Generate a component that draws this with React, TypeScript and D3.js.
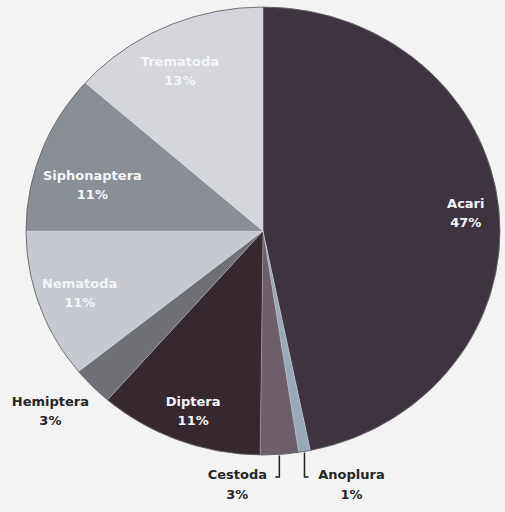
import { useEffect, useRef } from "react";
import { select, pie, arc } from "d3";

// slice data, clockwise from 12 o'clock
const categories = ["Acari", "Anoplura", "Cestoda", "Diptera", "Hemiptera", "Nematoda", "Siphonaptera", "Trematoda"];
const values = [46.8, 0.8, 2.6, 11.2, 2.8, 10.8, 11.5, 13.5];
const percentLabels = ["47%", "1%", "3%", "11%", "3%", "11%", "11%", "13%"];

const colors = ["#3d3440", "#9aa9b8", "#6d5f69", "#35282f", "#6f7075", "#c6c9d0", "#8a8e95", "#d4d6db"];

const width = 505;
const height = 512;
const cx = 263;
const cy = 231;
const rx = 237;
const ry = 224;

// label placement: [radius fraction, angle offset in degrees from slice middle]
const labelPlace: Record<string, [number, number]> = {
  Acari: [0.86, 0],
  Diptera: [0.85, -0.6],
  Hemiptera: [1.2, 2.3],
  Nematoda: [0.82, 0],
  Siphonaptera: [0.75, -4.4],
  Trematoda: [0.8, -1.7],
};
const outsideLabels = ["Hemiptera", "Cestoda", "Anoplura"];

export default function App() {
  const ref = useRef<SVGSVGElement>(null);

  useEffect(() => {
    if (!ref.current) return;
    const svg = select(ref.current);
    svg.selectAll("*").remove();

    svg.append("rect").attr("width", width).attr("height", height).attr("fill", "#f3f3f4");

    const slices = pie<number>().sort(null).value((d) => d)(values);
    const r = 100;
    const pieArc = arc<any>().innerRadius(0).outerRadius(r);

    // pie is slightly elliptical in the scan, so scale the circle
    const g = svg
      .append("g")
      .attr("transform", `translate(${cx},${cy}) scale(${rx / r},${ry / r})`);

    g.selectAll("path")
      .data(slices)
      .enter()
      .append("path")
      .attr("d", pieArc)
      .attr("fill", (_d, i) => colors[i])
      .attr("stroke", "#e6e8ec")
      .attr("stroke-width", 0.25)
      .attr("vector-effect", "non-scaling-stroke");

    g.append("ellipse")
      .attr("rx", r)
      .attr("ry", r)
      .attr("fill", "none")
      .attr("stroke", "#555")
      .attr("stroke-width", 0.8)
      .attr("vector-effect", "non-scaling-stroke");

    const toXY = (angle: number, f: number) => [cx + Math.sin(angle) * rx * f, cy - Math.cos(angle) * ry * f];

    const labels = svg
      .append("g")
      .attr("font-family", "DejaVu Sans, Verdana, sans-serif")
      .attr("font-weight", "bold")
      .attr("font-size", "13px")
      .attr("text-anchor", "middle");

    slices.forEach((s, i) => {
      const name = categories[i];
      const mid = (s.startAngle + s.endAngle) / 2;
      const outside = outsideLabels.includes(name);
      const fill = outside ? "#262626" : "#f4f5f8";

      if (name === "Cestoda" || name === "Anoplura") {
        // leader line: down from the rim, then a short tick
        const [x0, y0] = toXY(mid, 1);
        const yEnd = cy + ry + 22;
        const dir = name === "Cestoda" ? -1 : 1;
        svg
          .append("path")
          .attr("d", `M${x0},${y0 + 1}V${yEnd}h${dir * 4}`)
          .attr("fill", "none")
          .attr("stroke", "#222")
          .attr("stroke-width", 1.5);
        const tx = name === "Cestoda" ? x0 - 42 : x0 + 47;
        labels.append("text").attr("x", tx).attr("y", yEnd + 2).attr("fill", fill).text(name);
        labels
          .append("text")
          .attr("x", name === "Cestoda" ? x0 - 42 : x0 + 47)
          .attr("y", yEnd + 22)
          .attr("fill", fill)
          .text(percentLabels[i]);
        return;
      }

      const [f, off] = labelPlace[name] ?? [0.8, 0];
      const [ax, ay] = toXY(mid + (off * Math.PI) / 180, f);
      labels.append("text").attr("x", ax).attr("y", ay - 4).attr("fill", fill).text(name);
      labels.append("text").attr("x", ax).attr("y", ay + 15).attr("fill", fill).text(percentLabels[i]);
    });
  }, []);

  return (
    <svg
      ref={ref}
      width={width}
      height={height}
      style={{ position: "absolute", left: 0, top: 0, display: "block" }}
    />
  );
}
